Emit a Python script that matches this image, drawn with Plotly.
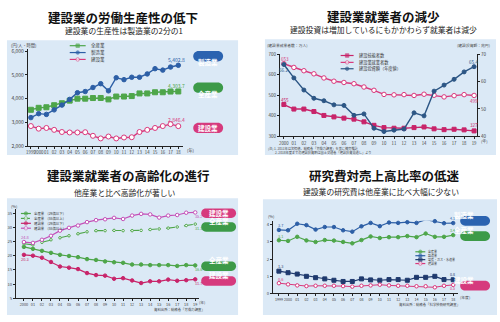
import plotly.graph_objects as go

# ---------------- data ----------------
q1_years = list(range(1999, 2019))
q1_ticktext = ["1999", "2000"] + [f"{y % 100:02d}" for y in range(2001, 2019)]
q1_all = [3534, 3616, 3640, 3726, 3808, 3918, 4000, 4000, 4027, 4030, 3970, 4090, 4090, 4110, 4220, 4220, 4270, 4270, 4300, 4303.7]
q1_mfg = [3205, 3370, 3340, 3530, 3730, 3970, 4250, 4300, 4470, 4630, 4330, 4880, 4800, 4900, 4900, 5040, 5260, 5200, 5330, 5402.8]
q1_con = [2850, 2740, 2770, 2690, 2600, 2580, 2580, 2590, 2440, 2330, 2410, 2330, 2370, 2380, 2600, 2690, 2770, 2850, 2930, 2846.4]

q2_years = list(range(2000, 2020))
q2_ticktext = ["2000"] + [f"{y % 100:02d}" for y in range(2001, 2020)]
q2_skilled = [455, 433, 433, 421, 402, 395, 389, 384, 371, 354, 343, 340, 340, 343, 346, 337, 333, 335, 332, 327]
q2_workers = [653, 635, 619, 604, 584, 568, 562, 556, 540, 524, 504, 502, 503, 499, 505, 500, 492, 498, 503, 499]
q2_invest = [66.2, 61.3, 56.9, 53.9, 53.0, 51.5, 51.3, 47.7, 48.2, 43.0, 41.8, 42.3, 42.7, 48.6, 47.5, 56.5, 58.7, 60.8, 63.5, 65.4]

q3_years = list(range(2000, 2020))
q3_ticktext = ["2000"] + [f"{y % 100:02d}" for y in range(2001, 2020)]
q3_all29 = [23.1, 22.4, 21.7, 21.0, 20.3, 19.9, 19.5, 18.8, 18.5, 18.0, 17.7, 17.5, 16.9, 16.9, 16.7, 16.7, 16.7, 16.4, 16.7, 16.6]
q3_all55 = [24.2, 23.8, 24.7, 25.6, 26.3, 27.0, 27.7, 28.4, 28.8, 28.8, 28.9, 28.8, 28.8, 28.9, 29.2, 29.4, 29.7, 30.1, 30.6, 31.1]
q3_con29 = [20.3, 20.0, 19.3, 17.8, 16.2, 15.8, 15.3, 13.9, 13.2, 13.0, 11.9, 12.1, 11.3, 10.4, 11.0, 11.0, 11.6, 11.2, 11.4, 11.7]
q3_con55 = [24.8, 24.5, 25.6, 27.0, 28.8, 29.8, 30.6, 31.8, 32.5, 32.8, 33.3, 32.9, 34.1, 34.7, 34.5, 33.4, 34.1, 34.3, 35.1, 35.2]

q4_years = list(range(1999, 2019))
q4_ticktext = ["1999", "2000"] + [f"{y % 100:02d}" for y in range(2001, 2019)]
q4_all = [3.1, 3.06, 3.3, 3.09, 3.0, 3.11, 3.08, 3.0, 2.92, 3.11, 3.32, 3.23, 3.28, 3.28, 3.34, 3.28, 3.49, 3.3, 3.3, 3.4]
q4_mfg = [3.7, 3.68, 4.06, 3.98, 3.72, 3.87, 3.87, 3.68, 3.6, 3.91, 4.11, 3.92, 4.13, 4.11, 4.15, 4.11, 4.3, 4.21, 4.09, 4.1]
q4_util = [1.3, 1.21, 1.13, 1.0, 0.92, 0.85, 0.77, 0.7, 0.7, 0.85, 0.79, 0.77, 0.81, 0.81, 0.77, 0.94, 0.94, 1.0, 0.81, 0.8]
q4_con = [0.6, 0.53, 0.47, 0.43, 0.45, 0.45, 0.45, 0.43, 0.4, 0.45, 0.47, 0.51, 0.47, 0.45, 0.45, 0.42, 0.42, 0.36, 0.45, 0.5]

# ---------------- styling helpers ----------------
W, H = 500, 322
FONT = "Noto Sans CJK JP"
GREEN = "#4ea64a"
BLUE = "#2d5fa6"
PINK = "#d9387c"
DPINK = "#c8246a"
VIOLET = "#c450b8"
NAVY = "#2c5685"
DNAVY = "#1f3a6e"
PANEL = "#dbe9f6"
TXT = "#444444"


def px(x):
    return x / W


def py(y):
    return 1 - y / H


def lin_range(d0, d1, p0, v0, p1, v1):
    s = (v1 - v0) / (p1 - p0)
    return [v0 + (d0 - p0) * s, v0 + (d1 - p0) * s]


fig = go.Figure()


def series(x, y, xa, ya, color, symbol="circle", size=4, fill=None, dash="solid", width=1.4, lw=1):
    fig.add_trace(go.Scatter(
        x=x, y=y, xaxis=xa, yaxis=ya, mode="lines+markers",
        line=dict(color=color, width=width, dash=dash),
        marker=dict(symbol=symbol, size=size, color=fill or color,
                    line=dict(color=color, width=lw)),
        showlegend=False, hoverinfo="skip", cliponaxis=False))


# Q1
series(q1_years, q1_all, "x", "y", GREEN, "square", 5)
series(q1_years, q1_mfg, "x", "y", BLUE, "circle", 4.5)
series(q1_years, q1_con, "x", "y", PINK, "circle", 5, fill="white")
# Q2
series(q2_years, q2_skilled, "x2", "y2", DPINK, "square", 4)
series(q2_years, q2_workers, "x2", "y2", PINK, "circle", 4.5, fill="white")
series(q2_years, q2_invest, "x2", "y3", NAVY, "circle", 4)
# Q3
series(q3_years, q3_all29, "x3", "y4", GREEN, "circle", 3.5, width=1.2)
series(q3_years, q3_all55, "x3", "y4", GREEN, "circle", 2.5, fill="white", dash="dash", width=1.1)
series(q3_years, q3_con29, "x3", "y4", DPINK, "circle", 3.5, width=1.2)
series(q3_years, q3_con55, "x3", "y4", VIOLET, "circle", 3.5, fill="white", width=1.2)
# Q4
series(q4_years, q4_all, "x4", "y5", GREEN, "circle", 3.5, width=1.2)
series(q4_years, q4_mfg, "x4", "y5", BLUE, "circle", 3.5, width=1.2)
series(q4_years, q4_util, "x4", "y5", DNAVY, "square", 4, width=1.2)
series(q4_years, q4_con, "x4", "y5", PINK, "circle", 3.5, fill="white", width=1.0)


# legend samples on a pixel overlay axis
def legend_rows(x0, x1, xt, ys, items, fsize):
    for yy, (label, color, symbol, fill, dash) in zip(ys, items):
        fig.add_trace(go.Scatter(
            x=[x0, (x0 + x1) / 2, x1], y=[yy, yy, yy], xaxis="x5", yaxis="y6",
            mode="lines+markers", line=dict(color=color, width=1.2, dash=dash),
            marker=dict(symbol=symbol, size=[0, 3.5, 0], color=fill or color,
                        line=dict(color=color, width=0.8)),
            showlegend=False, hoverinfo="skip"))
        fig.add_annotation(x=xt, y=yy, xref="x5", yref="y6", text=label, showarrow=False, borderpad=0,
                           xanchor="left", yanchor="middle", font=dict(size=fsize, color="#333", family=FONT))


legend_rows(68, 84, 88, [43.5, 50.5, 57.5],
            [("全産業", GREEN, "square", None, "solid"),
             ("製造業", BLUE, "circle", None, "solid"),
             ("建設業", PINK, "circle", "white", "solid")], 4.5)
legend_rows(340, 353, 357, [53.5, 60.5, 67],
            [("建設技能者数", DPINK, "square", None, "solid"),
             ("建設業就業者数", PINK, "circle", "white", "solid"),
             ("建設投資額（年度値）", NAVY, "circle", None, "solid")], 4.2)
legend_rows(19, 29, 31, [214.5, 219.5, 224.5, 229.5],
            [("全産業　(29歳以下)", GREEN, "circle", None, "solid"),
             ("全産業　(55歳以上)", GREEN, "circle", "white", "dash"),
             ("建設業　(29歳以下)", DPINK, "circle", None, "solid"),
             ("建設業　(55歳以上)", VIOLET, "circle", "white", "solid")], 3.4)
legend_rows(415, 425, 427, [253.5, 257.5, 261.5, 265.5],
            [("全産業", GREEN, "circle", None, "solid"),
             ("製造業", BLUE, "circle", None, "solid"),
             ("電気・ガス・水道業", DNAVY, "square", None, "solid"),
             ("建設業", PINK, "circle", "white", "solid")], 3.0)

# ---------------- shapes: panels and pills ----------------
shapes = []
for (x0, y0, x1, y1) in [(5, 38, 237, 155), (264, 37, 496, 155), (5, 199, 237, 318), (262, 200, 497, 318)]:
    shapes.append(dict(type="rect", xref="paper", yref="paper", x0=px(x0), x1=px(x1), y0=py(y1), y1=py(y0),
                       fillcolor=PANEL, line=dict(width=0), layer="below"))


def pill(x0, y0, x1, y1, color, text, fsize=6.5):
    r = (y1 - y0) / 2
    k = 0.5523 * r
    ym = (y0 + y1) / 2
    pts = [("M", [(x0 + r, y0)]), ("L", [(x1 - r, y0)]),
           ("C", [(x1 - r + k, y0), (x1, ym - k), (x1, ym)]),
           ("C", [(x1, ym + k), (x1 - r + k, y1), (x1 - r, y1)]),
           ("L", [(x0 + r, y1)]),
           ("C", [(x0 + r - k, y1), (x0, ym + k), (x0, ym)]),
           ("C", [(x0, ym - k), (x0 + r - k, y0), (x0 + r, y0)])]
    path = " ".join(c + " " + " ".join(f"{px(a):.5f},{py(b):.5f}" for a, b in p) for c, p in pts) + " Z"
    shapes.append(dict(type="path", xref="paper", yref="paper", path=path, fillcolor=color,
                       line=dict(width=0), layer="below"))
    fig.add_annotation(x=px((x0 + x1) / 2), y=py(ym), xref="paper", yref="paper", text=text,
                       showarrow=False, borderpad=0,
                       font=dict(size=fsize, color="white", family=FONT, weight="bold"))


PBLUE, PGREEN, PPINK = "#2b63b0", "#3c9a48", "#d63a7d"
pill(192, 49, 222, 59.5, PBLUE, "製造業")
pill(192, 81, 222, 91.5, PGREEN, "全産業")
pill(192, 122, 222, 132.5, PPINK, "建設業")
pill(200, 209.5, 235, 219, PPINK, "建設業")
pill(200, 223.5, 235, 233, PGREEN, "全産業")
pill(200, 263.5, 235, 273, PGREEN, "全産業")
pill(200, 278.5, 235, 288, PPINK, "建設業")
pill(460, 217, 490, 227, PBLUE, "製造業")
pill(460, 232.5, 490, 242.5, PGREEN, "全産業")
pill(460, 283, 490, 293, PPINK, "建設業")


# ---------------- titles ----------------
def ptext(x, y, text, size, color="#111", anchor="center", bold=False):
    fig.add_annotation(x=px(x), y=py(y), xref="paper", yref="paper",
                       text=text, showarrow=False, borderpad=0,
                       xanchor=anchor, yanchor="middle",
                       font=dict(size=size, color=color, family=FONT, weight="bold" if bold else "normal"))


ptext(121, 15, "建設業の労働生産性の低下", 12.5, bold=True)
ptext(122, 28.5, "建設業の生産性は製造業の2分の1", 7.8, color="#222")
ptext(383, 14, "建設業就業者の減少", 12.5, bold=True)
ptext(383, 27.5, "建設投資は増加しているにもかかわらず就業者は減少", 7.8, color="#222")
ptext(127, 176, "建設業就業者の高齢化の進行", 12.5, bold=True)
ptext(123, 193, "他産業と比べ高齢化が著しい", 7.8, color="#222")
ptext(384, 176, "研究費対売上高比率の低迷", 12.5, bold=True)
ptext(381, 192.5, "建設業の研究費は他産業に比べ大幅に少ない", 7.8, color="#222")

# units, notes, sources
ptext(8, 43, "(円/人・時間)", 4.2, TXT, "left")
ptext(185, 150, "(年)", 4.2, TXT, "left")
ptext(265, 43.5, "(建設業就業者数：万人)", 3.8, TXT, "left")
ptext(491, 43.5, "(建設投資額：兆円)", 3.8, TXT, "right")
ptext(480, 140.5, "(年)", 4, TXT, "left")
ptext(266, 148, "(注) 1. 2011年は欠損値。総務省「労働力調査」を基に補完推計", 3.2, TXT, "left")
ptext(273, 152, "2. 2018年度までの建設投資額は国土交通省「建設投資見通し」より", 3.2, TXT, "left")
ptext(8, 207, "(%)", 4, TXT, "left")
ptext(197, 305, "(年)", 3.8, TXT, "left")
ptext(205, 312, "資料出所：総務省「労働力調査」", 3.4, TXT, "right")
ptext(266, 217.5, "(%)", 4, TXT, "left")
ptext(459, 300, "(年度)", 3.8, TXT, "left")
ptext(461, 307, "資料出所：総務省「科学技術研究調査」", 3.4, TXT, "right")


# value labels anchored to data points
def vlabel(x, y, xa, ya, text, color, xs=0, ys=0, size=4.6):
    fig.add_annotation(x=x, y=y, xref=xa, yref=ya, text=text, showarrow=False, xshift=xs, yshift=ys,
                       borderpad=0, font=dict(size=size, color=color, family=FONT))


vlabel(q1_years[-1], q1_mfg[-1], "x", "y", f"{q1_mfg[-1]:,.1f}", BLUE, -2, 6, 5)
vlabel(q1_years[-1], q1_all[-1], "x", "y", f"{q1_all[-1]:,.1f}", GREEN, -2, 6, 5)
vlabel(q1_years[-1], q1_con[-1], "x", "y", f"{q1_con[-1]:,.1f}", PINK, -2, 7, 5)

vlabel(q2_years[0], q2_workers[0], "x2", "y2", f"{q2_workers[0]}", PINK, 1, 5)
vlabel(q2_years[0], q2_invest[0], "x2", "y3", f"{q2_invest[0]:.1f}", NAVY, 0, -6)
vlabel(q2_years[0], q2_skilled[0], "x2", "y2", f"{q2_skilled[0]}", DPINK, 1, 5)
vlabel(q2_years[-1], q2_invest[-1], "x2", "y3", f"{q2_invest[-1]:.1f}", NAVY, -1, 5)
vlabel(q2_years[-1], q2_workers[-1], "x2", "y2", f"{q2_workers[-1]}", PINK, 0, -6)
vlabel(q2_years[-1], q2_skilled[-1], "x2", "y2", f"{q2_skilled[-1]}", DPINK, 0, 6)

vlabel(q3_years[0], q3_con55[0], "x3", "y4", f"{q3_con55[0]:.1f}", VIOLET, 2, 5, 4)
vlabel(q3_years[0], q3_con29[0], "x3", "y4", f"{q3_con29[0]:.1f}", DPINK, 1, -4, 4)
vlabel(q3_years[-1], q3_con55[-1], "x3", "y4", f"{q3_con55[-1]:.1f}", VIOLET, 3, -4, 3.8)
vlabel(q3_years[-1], q3_all55[-1], "x3", "y4", f"{q3_all55[-1]:.1f}", GREEN, 3, -4, 3.8)
vlabel(q3_years[-1], q3_all29[-1], "x3", "y4", f"{q3_all29[-1]:.1f}", GREEN, 3, -4, 3.8)
vlabel(q3_years[-1], q3_con29[-1], "x3", "y4", f"{q3_con29[-1]:.1f}", DPINK, 3, -4, 3.8)

vlabel(q4_years[0], q4_mfg[0], "x4", "y5", f"{q4_mfg[0]:.1f}", BLUE, 2, 4, 3.8)
vlabel(q4_years[0], q4_all[0], "x4", "y5", f"{q4_all[0]:.1f}", GREEN, 2, 4, 3.8)
vlabel(q4_years[0], q4_util[0], "x4", "y5", f"{q4_util[0]:.1f}", DNAVY, 2, 5, 3.8)
vlabel(q4_years[0], q4_con[0], "x4", "y5", f"{q4_con[0]:.1f}", PINK, 2, 4, 3.8)
vlabel(q4_years[-1], q4_mfg[-1], "x4", "y5", f"{q4_mfg[-1]:.1f}", BLUE, -1, 5, 3.6)
vlabel(q4_years[-1], q4_all[-1], "x4", "y5", f"{q4_all[-1]:.1f}", GREEN, -1, 5, 3.6)
vlabel(q4_years[-1], q4_util[-1], "x4", "y5", f"{q4_util[-1]:.1f}", DNAVY, -1, 5, 3.6)
vlabel(q4_years[-1], q4_con[-1], "x4", "y5", f"{q4_con[-1]:.1f}", PINK, -1, -4, 3.6)

# ---------------- axes ----------------
def xax(dom, rng, anchor, vals, text, fs=4.5):
    return dict(domain=[px(dom[0]), px(dom[1])], range=rng, anchor=anchor, showgrid=False, zeroline=False,
                showline=True, linecolor="#222", linewidth=1, ticks="outside", ticklen=2, tickwidth=0.8,
                tickcolor="#222", tickvals=vals, ticktext=text, tickangle=0,
                tickfont=dict(size=fs, color=TXT, family=FONT), fixedrange=True)


def yax(dom, rng, anchor, vals, text=None, fs=5, **kw):
    d = dict(domain=[py(dom[0]), py(dom[1])], range=rng, anchor=anchor, showgrid=False, zeroline=False,
             showline=True, linecolor="#222", linewidth=1, ticks="outside", ticklen=2, tickwidth=0.8,
             tickcolor="#222", tickvals=vals, tickfont=dict(size=fs, color=TXT, family=FONT), fixedrange=True)
    if text is not None:
        d["ticktext"] = text
    d.update(kw)
    return d


q1_yt = [2000, 3000, 4000, 5000, 6000]
q2_yt = [300, 400, 500, 600, 700]
q2_y2t = [40, 50, 60, 70]
q3_yt = [5, 10, 15, 20, 25, 30, 35]
q4_yt = [0, 1, 2, 3, 4]

fig.update_layout(
    width=W, height=H, margin=dict(l=0, r=0, t=0, b=0),
    paper_bgcolor="white", plot_bgcolor="rgba(0,0,0,0)",
    font=dict(family=FONT), showlegend=False, shapes=shapes,
    xaxis=xax((26, 182), lin_range(26, 182, 29, 1999, 177, 2018), "y", q1_years, q1_ticktext, 4.3),
    yaxis=yax((146, 47), lin_range(146, 47, 146, 2000, 49, 6000), "x", q1_yt,
              [f"{v:,}" for v in q1_yt], 5),
    xaxis2=xax((279, 477), lin_range(279, 477, 283, 2000, 474, 2019), "y2", q2_years, q2_ticktext, 4.3),
    yaxis2=yax((136, 52), [300, 700], "x2", q2_yt, None, 4.5),
    yaxis3=yax((136, 52), [40, 70], "x2", q2_y2t, None, 4.5, overlaying="y2", side="right"),
    xaxis3=xax((14, 198), lin_range(14, 198, 22, 2000, 194, 2019), "y4", q3_years, q3_ticktext, 3.8),
    yaxis4=yax((301, 210), lin_range(301, 210, 301, 5, 214, 35), "x3", q3_yt, None, 4.2),
    xaxis4=xax((272, 458), lin_range(272, 458, 278, 1999, 453, 2018), "y5", q4_years, q4_ticktext, 3.6),
    yaxis5=yax((296, 222), lin_range(296, 222, 296, 0, 226, 4), "x4", q4_yt, None, 4.2),
    xaxis5=dict(domain=[0, 1], range=[0, W], visible=False, anchor="y6", fixedrange=True),
    yaxis6=dict(domain=[0, 1], range=[H, 0], visible=False, anchor="x5", fixedrange=True),
)

fig.write_html("out.html")
